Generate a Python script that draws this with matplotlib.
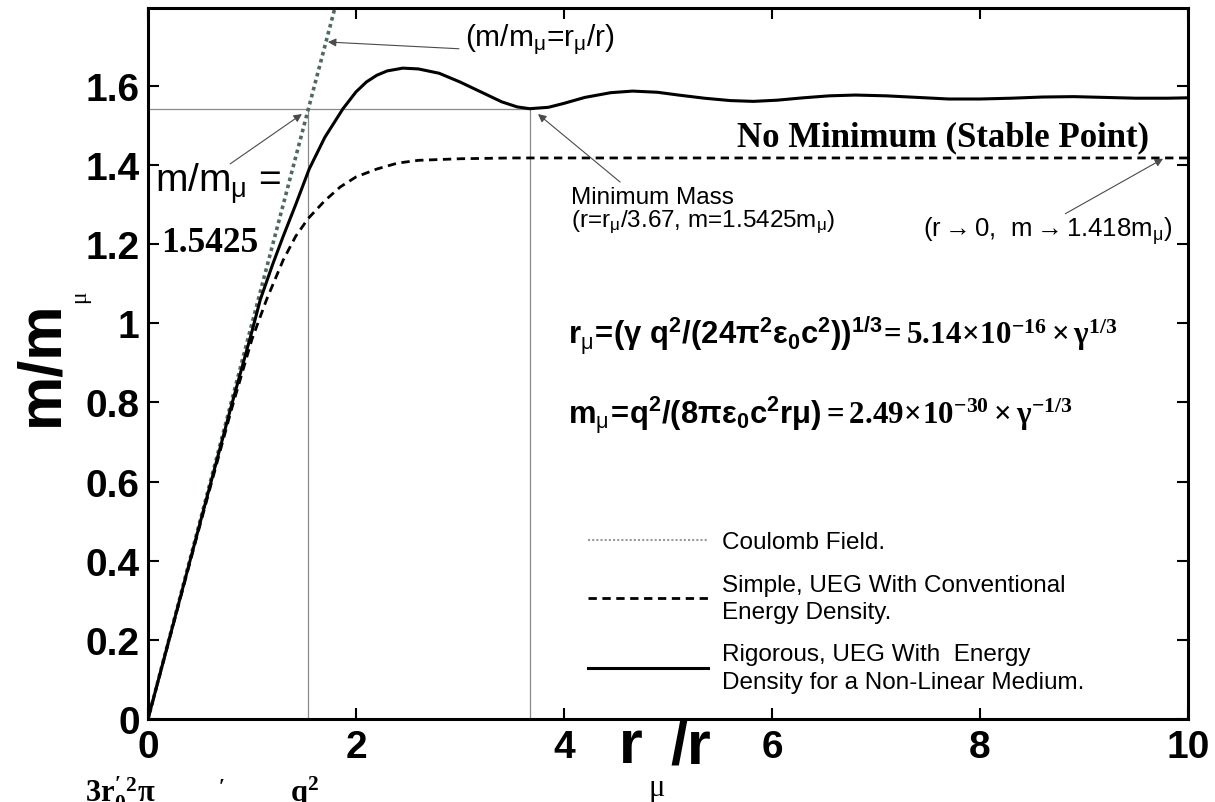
import matplotlib
matplotlib.use("Agg")
import matplotlib.pyplot as plt

plt.rcParams['font.family'] = ['Liberation Sans', 'DejaVu Sans']
plt.rcParams['mathtext.fontset'] = 'custom'
plt.rcParams['mathtext.rm'] = 'Liberation Sans'
plt.rcParams['mathtext.it'] = 'Liberation Sans'
plt.rcParams['mathtext.sf'] = 'Liberation Sans:bold'
plt.rcParams['mathtext.bf'] = 'Liberation Serif:bold'

# data (x = r_mu / r, y = m / m_mu)
coulomb_x = [0.0, 1.8]
coulomb_y = [0.0, 1.8]

simple_x = [0, 0.5, 0.8, 1.0, 1.14, 1.3, 1.42, 1.54, 1.7, 1.85, 2.0, 2.2, 2.4,
            2.6, 3.0, 3.5, 4, 5, 6, 7, 8, 9, 10]
simple_y = [0, 0.49, 0.78, 0.96, 1.06, 1.16, 1.22, 1.265, 1.31, 1.345, 1.37,
            1.39, 1.405, 1.412, 1.416, 1.418, 1.418, 1.418, 1.418, 1.418,
            1.418, 1.418, 1.418]

rig_x = [0, 0.5, 0.8, 1.0, 1.08, 1.2, 1.3, 1.42, 1.55, 1.7, 1.875, 2.0, 2.1,
         2.2, 2.3, 2.45, 2.6, 2.8, 3.0, 3.2, 3.4, 3.55, 3.67, 3.85, 4.0, 4.2,
         4.45, 4.66, 4.9, 5.1, 5.35, 5.6, 5.82, 6.05, 6.3, 6.55, 6.8, 7.1,
         7.4, 7.7, 8.0, 8.3, 8.6, 8.9, 9.2, 9.5, 9.8, 10]
rig_y = [0, 0.495, 0.79, 0.98, 1.06, 1.15, 1.22, 1.30, 1.39, 1.47, 1.5425,
         1.585, 1.61, 1.627, 1.638, 1.645, 1.643, 1.632, 1.61, 1.585, 1.56,
         1.547, 1.5425, 1.546, 1.556, 1.571, 1.583, 1.587, 1.584, 1.577,
         1.569, 1.563, 1.561, 1.564, 1.570, 1.575, 1.577, 1.575, 1.571,
         1.567, 1.567, 1.569, 1.572, 1.573, 1.571, 1.569, 1.569, 1.570]

min_x, min_y = 3.67, 1.5425      # minimum mass point
cross_x = 1.5425                 # coulomb line crosses m/m_mu = 1.5425

fig = plt.figure(figsize=(12.15, 8.03), dpi=100)
ax = fig.add_axes([148 / 1215, 1 - 720 / 803, 1040 / 1215, 711 / 803])

# reference lines
ax.plot([0, min_x], [min_y, min_y], color='#8a8a8a', lw=0.9)
ax.plot([cross_x, cross_x], [0, min_y], color='#8a8a8a', lw=0.9)
ax.plot([min_x, min_x], [0, min_y], color='#8a8a8a', lw=0.9)

ax.plot(coulomb_x, coulomb_y, ls=(0, (1, 1)), color='#4d6b5c', lw=2.6,
        label='Coulomb Field.')
ax.plot(simple_x, simple_y, ls=(0, (3, 2)), color='black', lw=2.0,
        label='Simple, UEG With Conventional\nEnergy Density.')
ax.plot(rig_x, rig_y, color='black', lw=2.2,
        label='Rigorous, UEG With  Energy\nDensity for a Non-Linear Medium.')

ax.set_xlim(0, 10)
ax.set_ylim(0, 1.797)
ax.set_xticks([0, 2, 4, 6, 8, 10])
ax.set_yticks([0, 0.2, 0.4, 0.6, 0.8, 1.0, 1.2, 1.4, 1.6])
ax.set_yticklabels(['0', '0.2', '0.4', '0.6', '0.8', '1', '1.2', '1.4', '1.6'])
ax.tick_params(direction='in', length=8, width=1.5, top=True, right=True,
               labelsize=28)
ax.tick_params(axis='y', pad=6)
ax.tick_params(axis='x', pad=7)
for lab in ax.get_xticklabels() + ax.get_yticklabels():
    lab.set_fontweight('bold')
for sp in ax.spines.values():
    sp.set_linewidth(2.2)

leg = ax.legend(loc='upper left', bbox_to_anchor=(588 / 1215, 1 - 532 / 803),
                bbox_transform=fig.transFigure, frameon=False, fontsize=17.5,
                handlelength=4.95, handletextpad=0.55, labelspacing=0.85,
                borderpad=0, borderaxespad=0)
for t in leg.get_texts():
    t.set_linespacing(1.3)
leg.get_lines()[0].set_color('#9a9a9a')
leg.get_lines()[0].set_linewidth(1.5)

# axis labels
fig.text(42 / 1215, 1 - 363 / 803, 'm/m', rotation=90, fontsize=44,
         fontweight='bold', ha='center', va='center')
fig.text(80 / 1215, 1 - 297 / 803, 'μ', rotation=90, fontsize=17,
         family='Liberation Serif', ha='center', va='center')
fig.text(631 / 1215, 1 - 748 / 803, 'r', fontsize=44, fontweight='bold',
         ha='center', va='center')
fig.text(691 / 1215, 1 - 748 / 803, '/r', fontsize=44, fontweight='bold',
         ha='center', va='center')
fig.text(657 / 1215, 1 - 789 / 803, 'μ', fontsize=22,
         family='Liberation Serif', ha='center', va='center')

arrow = dict(arrowstyle='-|>', color='#4a4a4a', lw=0.8, mutation_scale=12,
             shrinkA=0, shrinkB=0)

# annotations
ax.annotate('', xy=(1.73, 1.711), xytext=(2.99, 1.694), arrowprops=arrow)
ax.text(3.05, 1.72, r'(m/m$_{\mathrm{\mu}}$=r$_{\mathrm{\mu}}$/r)',
        fontsize=21.5, ha='left', va='center')

ax.annotate('', xy=(1.48, 1.529), xytext=(0.79, 1.403), arrowprops=arrow)
ax.text(0.07, 1.355, r'm/m$_{\mathrm{\mu}}$ =', fontsize=28, ha='left',
        va='center')
ax.text(0.13, 1.205, '1.5425', fontsize=25.5, family='Liberation Serif',
        fontweight='bold', ha='left', va='center')

ax.text(5.66, 1.471, 'No Minimum (Stable Point)', fontsize=25,
        family='Liberation Serif', fontweight='bold', ha='left', va='center')

ax.annotate('', xy=(3.75, 1.529), xytext=(4.54, 1.357), arrowprops=arrow)
ax.text(4.07, 1.348, 'Minimum Mass\n' + r'(r=r$_{\mathrm{\mu}}$/3.67, m=1.5425m$_{\mathrm{\mu}}$)',
        fontsize=17.5, ha='left', va='top', linespacing=1.0)

ax.annotate('', xy=(9.76, 1.416), xytext=(8.82, 1.277), arrowprops=arrow)
ax.text(7.45, 1.235, r'(r$\rightarrow$0,  m$\rightarrow$1.418m$_{\mathrm{\mu}}$)',
        fontsize=18.5, ha='left', va='center')

ax.text(4.04, 0.97,
        r'$\mathsf{r_{\mathrm{\mu}}\!=\!(\gamma\ q^2/(24\pi^2\epsilon_0c^2))^{1/3}}'
        r'\!\mathbf{= 5.14\!\times\!10^{-16}\times\gamma^{1/3}}$',
        fontsize=22.3, ha='left', va='center')
ax.text(4.04, 0.77,
        r'$\mathsf{m_{\mathrm{\mu}}\!=\!q^2/(8\pi\epsilon_0c^2r\mu)}'
        r'\mathbf{= 2.49\!\times\!10^{-30}\times\gamma^{-1/3}}$',
        fontsize=22.3, ha='left', va='center')

# formula cut off at the bottom edge
fig.text(85 / 1215, 1 - 775 / 803, r"$\mathbf{3r_0'^2\pi}$", fontsize=22,
         ha='left', va='top')
fig.text(218 / 1215, 1 - 780 / 803, r"$\mathbf{'}$", fontsize=22,
         ha='left', va='top')
fig.text(290 / 1215, 1 - 775 / 803, r"$\mathbf{q^2}$", fontsize=22,
         ha='left', va='top')

fig.savefig('out.png', dpi=100)
